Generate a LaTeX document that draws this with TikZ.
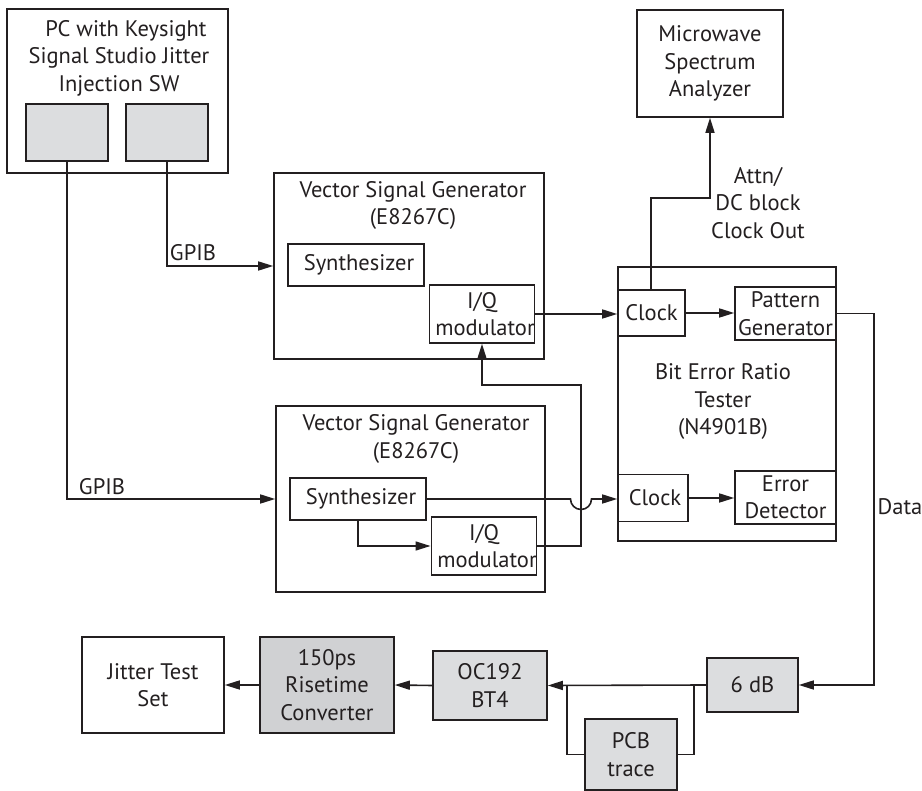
\documentclass[tikz,border=0pt]{standalone}
\usepackage{fontspec}
\setmainfont{PT Sans}
\usetikzlibrary{arrows.meta}
\definecolor{ink}{HTML}{231F20}
\definecolor{lightg}{HTML}{DCDDDF}
\definecolor{darkg}{HTML}{D0D1D3}
\begin{document}
\begin{tikzpicture}[x=1pt,y=-1pt,
  every node/.style={font=\fontsize{22.5}{27.5}\selectfont, text=ink, align=center, inner sep=0pt},
  blk/.style={draw=ink, line width=1.6pt, rectangle, minimum width=#1},
  conn/.style={draw=ink, line width=1.6pt},
  arr/.style={conn, -{Triangle[length=15pt,width=9pt]}},
  lbl/.style={}]
\useasboundingbox (0,0) rectangle (922,791);
% containers
\node[blk=221, minimum height=164] (PC) at (117.5,91) {};
\node[blk=82, minimum height=57, fill=lightg] (PCa) at (67,132.5) {};
\node[blk=82, minimum height=57, fill=lightg] (PCb) at (167,132.5) {};
\node[lbl] (PCt) at (119,58) {\hspace*{14pt}PC with Keysight\\Signal Studio Jitter\\Injection SW};
\node[blk=270, minimum height=186] (VSGa) at (409,266) {};
\node[lbl] (VSGat) at (413,205.5) {Vector Signal Generator\\(E8267C)};
\node[blk=136, minimum height=42] (SYa) at (356,265) {\hspace*{6pt}Synthesizer};
\node[blk=98, minimum height=58] (IQa) at (482,314) {I/Q\\\hspace*{6pt}modulator};
\node[blk=269, minimum height=186] (VSGb) at (410.5,499) {};
\node[lbl] (VSGbt) at (416,439) {Vector Signal Generator\\(E8267C)};
\node[blk=136, minimum height=42] (SYb) at (358,499) {\hspace*{6pt}Synthesizer};
\node[blk=96, minimum height=58] (IQb) at (484,546) {I/Q\\\hspace*{6pt}modulator};
\node[blk=218, minimum height=274] (BERT) at (727,404) {};
\node[lbl] (BERTt) at (723,402) {Bit Error Ratio\\Tester\\(N4901B)};
\node[blk=67, minimum height=46] (CKa) at (651.5,313) {Clock};
\node[blk=101, minimum height=53] (PG) at (785.5,313.5) {Pattern\\Generator};
\node[blk=70, minimum height=47] (CKb) at (653,498) {\hspace*{4pt}Clock};
\node[blk=101, minimum height=53] (ED) at (785.5,497.5) {Error\\Detector};
\node[blk=146, minimum height=107] (MSA) at (710,63.5) {Microwave\\Spectrum\\Analyzer};
\node[blk=142, minimum height=96] (JTS) at (153,685) {Jitter Test\\Set};
\node[blk=134, minimum height=96, fill=darkg] (RC) at (327,685) {150ps\\Risetime\\Converter};
\node[blk=114, minimum height=69, fill=lightg] (OC) at (490,685.5) {OC192\\BT4};
\node[blk=91, minimum height=54, fill=lightg] (DB) at (752.5,685) {6 dB};
\node[blk=92, minimum height=71, fill=lightg] (PCB) at (631,754.5) {PCB\\trace};
% labels
\node[lbl] (G1) at (193,253) {GPIB};
\node[lbl] (G2) at (102,487) {GPIB};
\node[lbl] (AT) at (758,203) {Attn/\\DC block\\Clock Out};
\node[lbl] (DT) at (900,507) {Data};
% coordinates
\coordinate (up) at (651,198);
\coordinate (dx) at (874,313.5);
\coordinate (j1) at (694,685);
\coordinate (j2) at (567,685);
\coordinate (v1) at (581,546);
\coordinate (v2) at (581,385);
% connectors
\draw[arr] (PCb.south) |- (VSGa.west);
\draw[arr] (PCa.south) |- (VSGb.west);
\draw[arr] (IQa.east) -- (IQa.east -| CKa.west);
\draw[arr] (CKa.east) -- (CKa.east -| PG.west);
\draw[arr] (CKb.east) -- (CKb.east -| ED.west);
\draw[arr] (CKa.north -| up) -- (up) -| (MSA.south);
\draw[arr] (PG.east) -- (dx) |- (DB.east);
\draw[arr] (DB.west) -- (OC.east);
\draw[conn] (j1) |- (PCB.east);
\draw[conn] (PCB.west) -| (j2);
\draw[arr] (OC.west) -- (RC.east);
\draw[arr] (RC.west) -- (JTS.east);
\draw[arr] (SYb.south) |- (IQb.west);
\draw[arr] (IQb.east) -- (v1) -- (v2) -| (IQa.south);
\draw[arr] (SYb.east) -- (570.5,499) arc[start angle=180, end angle=0, radius=10.5] -- (SYb.east -| CKb.west);
\end{tikzpicture}
\end{document}
